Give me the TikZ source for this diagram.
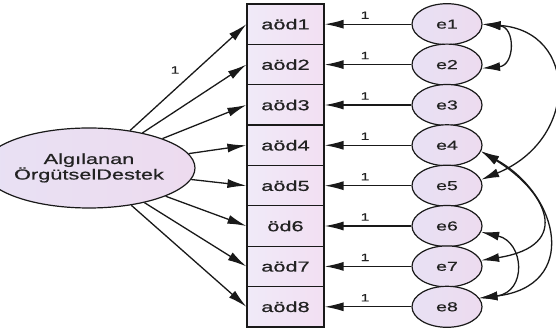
\documentclass[tikz,border=0pt]{standalone}
\usepackage{fontspec}
\setmainfont{Liberation Sans}
\newfontfamily\wfont{Liberation Sans}[FakeStretch=1.5,FakeBold=0.6]
\usetikzlibrary{arrows.meta,shapes.geometric}
\definecolor{txt}{HTML}{222222}
\definecolor{boxA}{HTML}{F0EAF8}
\definecolor{boxB}{HTML}{F2DFF2}
\definecolor{ellA}{HTML}{E8E1F4}
\definecolor{ellB}{HTML}{EDDBEF}
\begin{document}
\begin{tikzpicture}[x=1pt,y=1pt,
  obs/.style={draw=black!90, line width=1.2pt, minimum width=77pt, minimum height=40.4pt,
    inner sep=0pt, left color=boxA, right color=boxB, text=txt,
    font=\wfont\fontsize{14.5}{16}\selectfont},
  err/.style={ellipse, draw=black!90, line width=1.2pt, minimum width=70pt, minimum height=41pt,
    inner sep=0pt, left color=ellA, right color=ellB, text=txt,
    font=\wfont\fontsize{13}{15}\selectfont},
  lat/.style={ellipse, draw=black!90, line width=1.2pt, minimum width=162pt, minimum height=80pt,
    inner sep=0pt, left color=ellA, right color=ellB, text=txt, align=center,
    font=\wfont\fontsize{14.5}{15.5}\selectfont},
  arr/.style={-{Latex[length=19pt,width=9pt]}, line width=1.3pt, black!90},
  cov/.style={{Latex[length=18pt,width=9pt]}-{Latex[length=18pt,width=9pt]}, line width=1.3pt, black!90},
  one/.style={inner sep=0pt, text=txt, font=\wfont\fontsize{10.5}{11}\selectfont}
]
\useasboundingbox (0,0) rectangle (556,331);

% latent
\node[lat] (L) at (89,163) {Algılanan\\ÖrgütselDestek};

% observed boxes
\node[obs] (a1) at (285.5,306.8) {aöd1};
\node[obs] (a2) at (285.5,266.4) {aöd2};
\node[obs] (a3) at (285.5,226.0) {aöd3};
\node[obs] (a4) at (285.5,185.7) {aöd4};
\node[obs] (a5) at (285.5,145.3) {aöd5};
\node[obs] (a6) at (285.5,105.0) {öd6};
\node[obs] (a7) at (285.5,64.6) {aöd7};
\node[obs] (a8) at (285.5,24.2) {aöd8};

% errors
\node[err] (e1) at (447,306.8) {e1};
\node[err] (e2) at (447,266.4) {e2};
\node[err] (e3) at (447,226.0) {e3};
\node[err] (e4) at (447,185.7) {e4};
\node[err] (e5) at (447,145.3) {e5};
\node[err] (e6) at (447,105.0) {e6};
\node[err] (e7) at (447,64.6) {e7};
\node[err] (e8) at (447,24.2) {e8};

% loadings
\foreach \i in {1,...,8} {
  \draw[arr] (L) -- (a\i.west);
  \draw[arr] (e\i) -- (a\i);
}
\node[one] (w1) at (175,261) {1};
\node[one] (u1) at (365,315.8) {1};
\node[one] (u2) at (365,275.4) {1};
\node[one] (u3) at (365,235.0) {1};
\node[one] (u4) at (365,194.7) {1};
\node[one] (u5) at (365,154.3) {1};
\node[one] (u6) at (365,114.0) {1};
\node[one] (u7) at (365,73.6) {1};
\node[one] (u8) at (365,33.2) {1};

% covariances
\draw[cov] (e1.east) .. controls +(33,-3) and +(33,3) .. (e2.-6);
\draw[cov] (e1.east) .. controls +(96,-7) and +(98,40) .. (e5.10);
\draw[cov] (e4.-10) .. controls +(64,-39) and +(94,15) .. (e7.10);
\draw[cov] (e4.-10) .. controls +(79,-44) and +(100,12) .. (e8.15);
\draw[cov] (e6.-10) .. controls +(43,-10) and +(48,6) .. (e8.15);
\end{tikzpicture}
\end{document}
